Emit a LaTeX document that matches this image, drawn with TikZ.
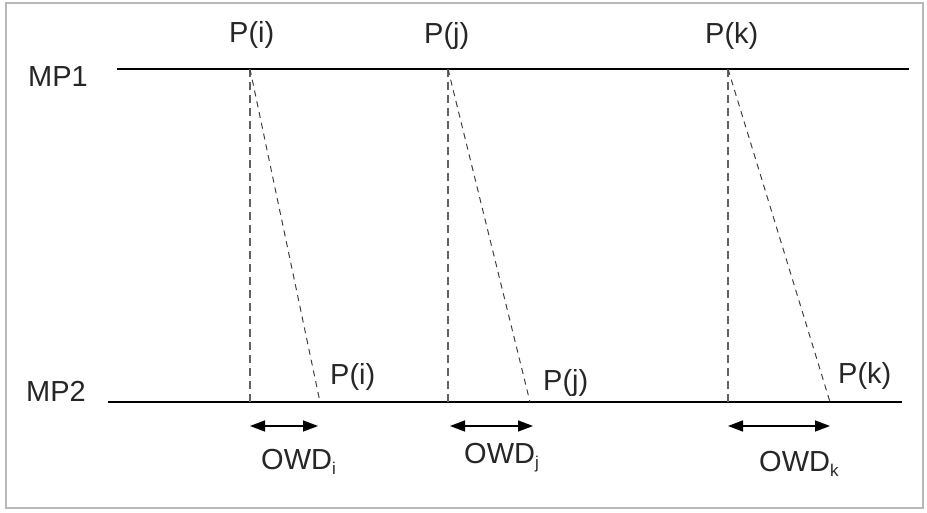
\documentclass[tikz,border=0pt]{standalone}
\usepackage{fontspec}
\setmainfont{Liberation Sans}
\usetikzlibrary{arrows.meta}
\newcommand{\subtxt}[1]{\raisebox{-5pt}{\fontsize{17}{17}\selectfont #1}}
\begin{document}
\begin{tikzpicture}[x=1pt,y=-1pt,
  lbl/.style={inner sep=0pt,anchor=base west,text=black!85,font=\fontsize{29}{29}\selectfont},
  mpline/.style={line width=1.6pt,black},
  dline/.style={line width=1.1pt,black!62,dash pattern=on 8pt off 5pt},
  sline/.style={line width=1pt,black!75,dash pattern=on 6pt off 5pt},
  owd/.style={line width=1.4pt,black,{Triangle[length=15pt,width=11pt]}-{Triangle[length=15pt,width=11pt]}}]
\useasboundingbox (0,0) rectangle (927,513);
\draw[line width=1.2pt,black!28] (6,3) rectangle (923,508);
% measurement point lines
\coordinate (m1a) at (117,69); \coordinate (m1b) at (909,69);
\coordinate (m2a) at (108,402); \coordinate (m2b) at (902,402);
\draw[mpline] (m1a) -- (m1b);
\draw[mpline] (m2a) -- (m2b);
\node[lbl] (mp1) at (28,87) {MP1};
\node[lbl] (mp2) at (26,401) {MP2};
% top labels
\node[lbl] (pit) at (229,43) {P(i)};
\node[lbl] (pjt) at (424,44) {P(j)};
\node[lbl] (pkt) at (705,44) {P(k)};
% bottom labels
\node[lbl] (pib) at (330,384) {P(i)};
\node[lbl] (pjb) at (543,390) {P(j)};
\node[lbl] (pkb) at (838,383) {P(k)};
% packet points
\coordinate (i1) at (250,69); \coordinate (i2) at (250,402); \coordinate (i3) at (320,402);
\coordinate (j1) at (448,69); \coordinate (j2) at (448,402); \coordinate (j3) at (530,402);
\coordinate (k1) at (728,69); \coordinate (k2) at (728,402); \coordinate (k3) at (830,402);
\draw[dline] (i1) -- (i2);
\draw[sline] (i1) -- (i3);
\draw[dline] (j1) -- (j2);
\draw[sline] (j1) -- (j3);
\draw[dline] (k1) -- (k2);
\draw[sline] (k1) -- (k3);
% OWD arrows
\coordinate (ai1) at (250,426); \coordinate (ai2) at (318,426);
\coordinate (aj1) at (450,426); \coordinate (aj2) at (533,426);
\coordinate (ak1) at (728,426); \coordinate (ak2) at (830,426);
\draw[owd] (ai1) -- (ai2);
\draw[owd] (aj1) -- (aj2);
\draw[owd] (ak1) -- (ak2);
\node[lbl] (owdi) at (261,469) {OWD\subtxt{i}};
\node[lbl] (owdj) at (464,463) {OWD\subtxt{j}};
\node[lbl] (owdk) at (759,471) {OWD\subtxt{k}};
\end{tikzpicture}
\end{document}
